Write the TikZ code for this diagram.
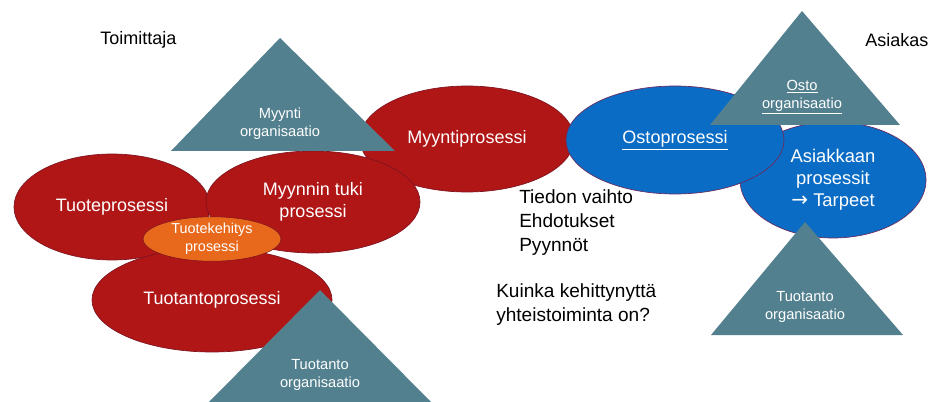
\documentclass[tikz,border=0pt]{standalone}
\usepackage{fontspec}
\setmainfont{Liberation Sans}
\newfontfamily\symfont{DejaVu Sans}
\usetikzlibrary{shapes.geometric}
\definecolor{procred}{HTML}{B01616}
\definecolor{procredline}{HTML}{7E1420}
\definecolor{procblue}{HTML}{0A6CC4}
\definecolor{procblueline}{HTML}{6A2A5E}
\definecolor{orgteal}{HTML}{52808F}
\definecolor{devorange}{HTML}{E8691C}
\tikzset{
  esize/.style 2 args={minimum width=0.75*#1pt, minimum height=0.75*#2pt},
  redproc/.style={ellipse, fill=procred, draw=procredline, line width=0.5pt, inner sep=0pt,
    text=white, align=center, font=\fontsize{13.5}{17}\selectfont},
  blueproc/.style={ellipse, fill=procblue, draw=procblueline, line width=0.5pt, inner sep=0pt,
    text=white, align=center, font=\fontsize{13.5}{17}\selectfont},
  devproc/.style={ellipse, fill=devorange, draw=procredline, line width=0.4pt, inner sep=0pt,
    text=white, align=center, font=\fontsize{10.8}{13.5}\selectfont},
  orgtri/.style={fill=orgteal},
  orglabel/.style={text=white, align=center, inner sep=0pt, font=\fontsize{11}{13.5}\selectfont},
  sidelabel/.style={text=black, anchor=west, inner sep=0pt, font=\fontsize{13.5}{17}\selectfont},
  notelabel/.style={text=black, anchor=west, align=left, inner sep=0pt, font=\fontsize{14.3}{18}\selectfont},
}
\begin{document}
\begin{tikzpicture}[x=0.75pt, y=-0.75pt]
\useasboundingbox (0,0) rectangle (934,402);
\clip (0,0) rectangle (934,402);
\fill[white] (0,0) rectangle (934,402);

% supplier side
\node[redproc, esize={214}{106}] (myynti) at (467,139) {Myyntiprosessi};
\node[redproc, esize={196}{106}] (tuote) at (112,207) {Tuoteprosessi};
\node[redproc, esize={240}{104}] (tuotanto) at (212,300) {Tuotantoprosessi};
\node[redproc, esize={214}{102}] (tuki) at (313,202) {Myynnin tuki\\prosessi};
\node[devproc, esize={138}{44}] (kehitys) at (212,239) {Tuotekehitys\\prosessi};

% customer side
\node[blueproc, esize={186}{116}, font=\fontsize{13.8}{16.5}\selectfont] (asiakas) at (833,180)
  {Asiakkaan\\prosessit\\{\symfont\fontsize{15}{16.5}\selectfont →} Tarpeet};
\node[blueproc, esize={218}{108}] (osto) at (675,140) {\underline{Ostoprosessi}};

% organisations
\coordinate (mtop) at (280,38);
\coordinate (mleft) at (171,151);
\coordinate (mright) at (395,151);
\fill[orgtri] (mtop) -- (mleft) -- (mright) -- cycle;
\node[orglabel] (morg) at (280,124) {Myynti\\organisaatio};

\coordinate (ptop) at (320,290);
\coordinate (pleft) at (208,403);
\coordinate (pright) at (432,403);
\fill[orgtri] (ptop) -- (pleft) -- (pright) -- cycle;
\node[orglabel] (porg) at (320,375) {Tuotanto\\organisaatio};

\coordinate (otop) at (802,11);
\coordinate (oleft) at (710,125);
\coordinate (oright) at (900,125);
\fill[orgtri] (otop) -- (oleft) -- (oright) -- cycle;
\node[orglabel] (oorg) at (802,97) {\underline{Osto}\\\underline{organisaatio}};

\coordinate (ctop) at (805,222);
\coordinate (cleft) at (711,335);
\coordinate (cright) at (903,335);
\fill[orgtri] (ctop) -- (cleft) -- (cright) -- cycle;
\node[orglabel] (corg) at (805,307) {Tuotanto\\organisaatio};

% side titles and notes
\node[sidelabel] (toim) at (100,40) {Toimittaja};
\node[sidelabel] (asiak) at (865,40) {Asiakas};
\node[notelabel] (vaihto) at (519,223) {Tiedon vaihto\\Ehdotukset\\Pyynnöt};
\node[notelabel] (kuinka) at (496,305) {Kuinka kehittynyttä\\yhteistoiminta on?};
\end{tikzpicture}
\end{document}
